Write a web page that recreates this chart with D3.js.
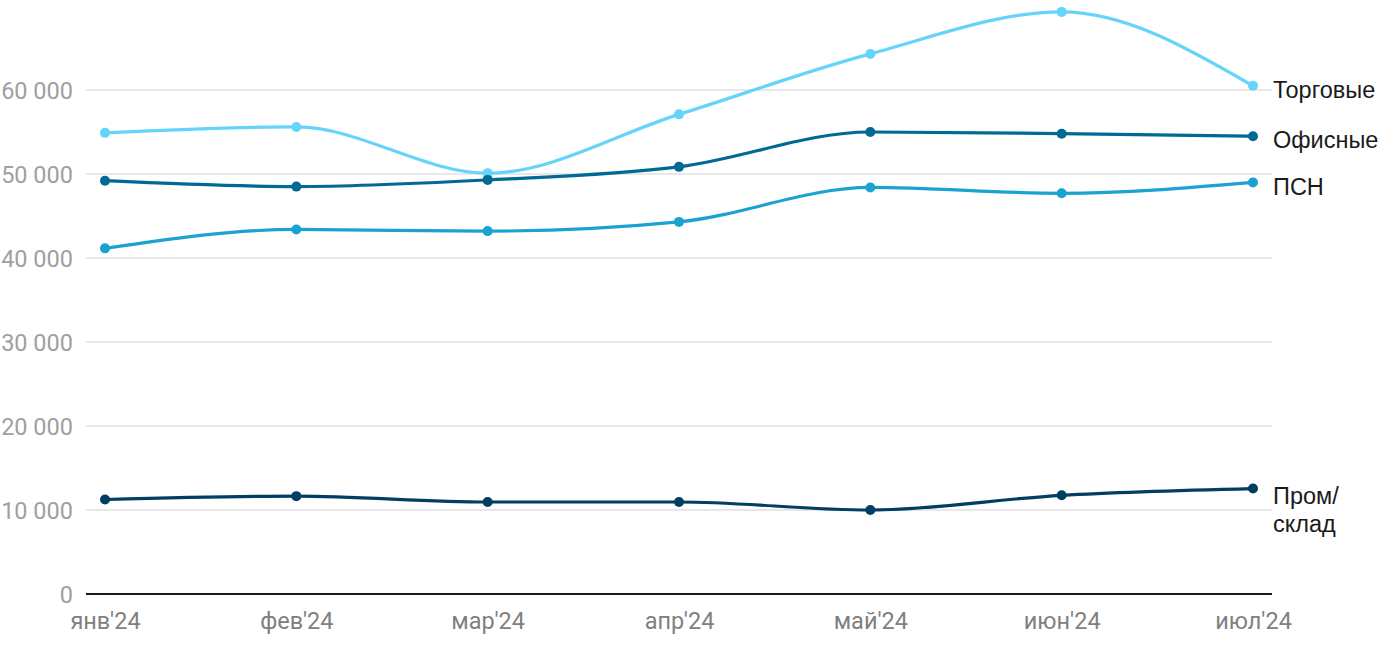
<!DOCTYPE html>
<html>
<head>
<meta charset="utf-8">
<script src="https://cdn.jsdelivr.net/npm/d3@7"></script>
<style>
  html, body { margin: 0; padding: 0; background: #fff; }
  svg { display: block; font-family: Roboto, "Noto Sans", sans-serif; }
</style>
</head>
<body>
<svg id="chart" width="1400" height="650"></svg>
<script>
const months = ["янв'24", "фев'24", "мар'24", "апр'24", "май'24", "июн'24", "июл'24"];
const torgovye = [54900, 55600, 50100, 57100, 64300, 69300, 60500];
const ofisnye  = [49200, 48500, 49300, 50850, 55000, 54800, 54500];
const psn      = [41150, 43400, 43200, 44300, 48400, 47700, 49000];
const prom     = [11250, 11650, 10950, 10950, 10000, 11750, 12550];
const yTicks = [0, 10000, 20000, 30000, 40000, 50000, 60000];

const seriesNames = ["Торговые", "Офисные", "ПСН", "Пром/склад"];
const seriesLabelLines = [["Торговые"], ["Офисные"], ["ПСН"], ["Пром/", "склад"]];
const seriesValues = [torgovye, ofisnye, psn, prom];
const seriesColors = ["#66d4fa", "#006a94", "#1aa3d0", "#003e62"];

const svg = d3.select("#chart");
const x = d3.scalePoint().domain(months).range([105, 1253]);
const y = d3.scaleLinear().domain([0, 70000]).range([594, 6]);
const gridX0 = 86, gridX1 = 1272;

const loc = d3.formatLocale({decimal: ",", thousands: "\u00a0", grouping: [3], currency: ["", ""]});
const fmt = loc.format(",d");

// gridlines
svg.append("g").selectAll("line").data(yTicks.filter(d => d !== 0)).join("line")
  .attr("x1", gridX0).attr("x2", gridX1)
  .attr("y1", d => y(d)).attr("y2", d => y(d))
  .attr("stroke", "#e1e1e1").attr("stroke-width", 1.5);

// y axis labels
const yAxis = d3.axisLeft(y).tickValues(yTicks).tickFormat(fmt).tickSize(0).tickPadding(0);
const yg = svg.append("g").attr("transform", "translate(73,0)").call(yAxis);
yg.select(".domain").remove();
yg.selectAll("text").attr("fill", "#a0a0a0").attr("font-size", 23.5).attr("font-family", "Roboto").attr("dy", "0.35em");

// baseline
svg.append("line").attr("x1", gridX0).attr("x2", gridX1).attr("y1", y(0)).attr("y2", y(0))
  .attr("stroke", "#1a1a1a").attr("stroke-width", 2);

// x axis labels
const xAxis = d3.axisBottom(x).tickSize(0).tickPadding(0);
const xg = svg.append("g").attr("transform", "translate(0,621)").call(xAxis);
xg.select(".domain").remove();
xg.selectAll("text").attr("fill", "#808080").attr("font-size", 23.5).attr("font-family", "Roboto").attr("dy", "0.35em").attr("y", 0);

// lines
const line = d3.line().x((d, i) => x(months[i])).y(d => y(d)).curve(d3.curveMonotoneX);
seriesValues.forEach((vals, si) => {
  const g = svg.append("g");
  g.append("path").attr("d", line(vals)).attr("fill", "none")
    .attr("stroke", seriesColors[si]).attr("stroke-width", 3.2)
    .attr("stroke-linejoin", "round").attr("stroke-linecap", "round");
  g.selectAll("circle").data(vals).join("circle")
    .attr("cx", (d, i) => x(months[i])).attr("cy", d => y(d)).attr("r", 5)
    .attr("fill", seriesColors[si]);
  const last = vals[vals.length - 1];
  const lines = seriesLabelLines[si];
  const t = g.append("text").attr("x", 1273)
    .attr("y", y(last) + (lines.length > 1 ? 7 : 4))
    .attr("fill", "#1a1a1a").attr("font-size", 23.5).attr("font-family", "'Liberation Sans', Arial, sans-serif");
  lines.forEach((l, li) => {
    t.append("tspan").attr("x", 1273).attr("dy", li === 0 ? "0.35em" : 28).text(l);
  });
});
</script>
</body>
</html>
